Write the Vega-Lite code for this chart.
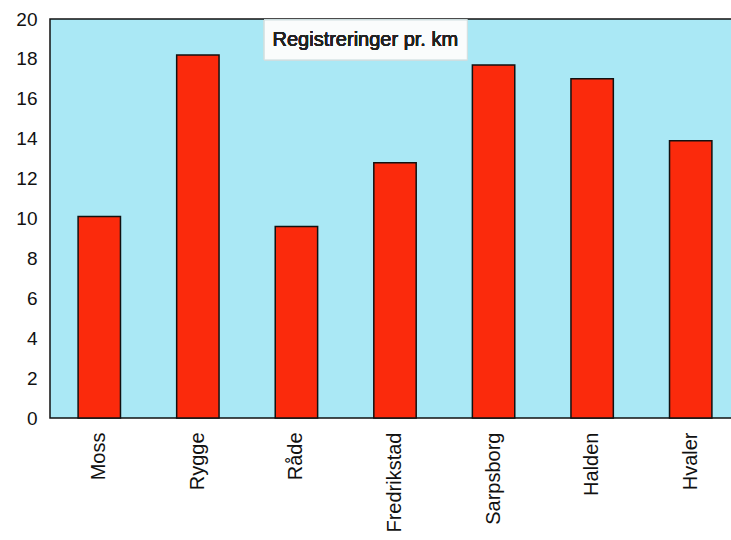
{
  "$schema": "https://vega.github.io/schema/vega-lite/v6.json",
  "autosize": "none",
  "width": 690,
  "height": 399,
  "padding": {"left": 50, "top": 19, "right": 10, "bottom": 122},
  "background": "white",
  "config": {
    "font": "Liberation Sans",
    "view": {"fill": "#aae8f5", "stroke": "#111111", "strokeWidth": 1.5},
    "axis": {"labelOverlap": false, "labelColor": "#111111", "ticks": false, "domain": false, "grid": false, "title": null},
    "axisX": {"labelAngle": -90, "labelAlign": "right", "labelBaseline": "middle", "labelFontSize": 20, "labelPadding": 14},
    "axisY": {"labelFontSize": 19, "labelPadding": 13}
  },
  "data": {
    "values": [
      {"kommune": "Moss", "verdi": 10.1},
      {"kommune": "Rygge", "verdi": 18.2},
      {"kommune": "Råde", "verdi": 9.6},
      {"kommune": "Fredrikstad", "verdi": 12.8},
      {"kommune": "Sarpsborg", "verdi": 17.7},
      {"kommune": "Halden", "verdi": 17.0},
      {"kommune": "Hvaler", "verdi": 13.9}
    ]
  },
  "layer": [
    {
      "mark": {"type": "bar", "fill": "#fb2a0c", "stroke": "#111111", "strokeWidth": 1.5},
      "encoding": {
        "x": {
          "field": "kommune", "type": "nominal", "sort": null,
          "scale": {"paddingInner": 0.57, "paddingOuter": 0.285},
          "axis": {"labelOverlap": false, "labelAngle": -90}
        },
        "y": {
          "field": "verdi", "type": "quantitative",
          "scale": {"domain": [0, 20], "nice": false},
          "axis": {"values": [0, 2, 4, 6, 8, 10, 12, 14, 16, 18, 20], "labelOverlap": false}
        }
      }
    },
    {
      "mark": {"type": "rect", "fill": "#fafcfc", "stroke": "#cfdfe0", "strokeWidth": 1},
      "encoding": {
        "x": {"datum": "Råde", "bandPosition": -0.26, "axis": {"labelOverlap": false, "labelAngle": -90}},
        "x2": {"datum": "Sarpsborg", "bandPosition": -0.12},
        "y": {"datum": 19.95, "type": "quantitative", "axis": {"values": [0, 2, 4, 6, 8, 10, 12, 14, 16, 18, 20], "labelOverlap": false}},
        "y2": {"datum": 17.95}
      }
    },
    {
      "mark": {"type": "text", "text": "Registreringer pr. km", "fontSize": 20, "fontWeight": "normal", "color": "#222222", "align": "center", "baseline": "middle"},
      "encoding": {
        "x": {"datum": "Fredrikstad", "bandPosition": -0.2, "axis": {"labelOverlap": false, "labelAngle": -90}},
        "y": {"datum": 18.95, "type": "quantitative", "axis": {"values": [0, 2, 4, 6, 8, 10, 12, 14, 16, 18, 20], "labelOverlap": false}}
      }
    }
  ]
}
